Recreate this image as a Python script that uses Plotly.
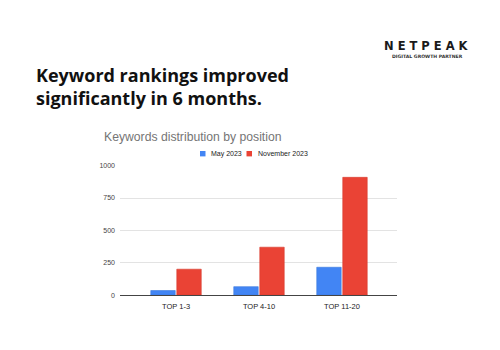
import plotly.graph_objects as go

# Keyword counts per ranking bucket
categories = ["TOP 1-3", "TOP 4-10", "TOP 11-20"]
may_2023 = [35, 65, 215]
nov_2023 = [200, 370, 910]
series_names = ["May 2023", "November 2023"]
y_ticks = [0, 250, 500, 750, 1000]

W, H = 500, 350


def px(x):
    return x / W


def py(y):
    return 1 - y / H


colors = ["#4285F4", "#EA4335"]
edges = ["#3b78dd", "#d63b2e"]

fig = go.Figure()
for name, vals, c, e in zip(series_names, [may_2023, nov_2023], colors, edges):
    fig.add_trace(go.Bar(
        x=categories, y=vals, name=name,
        marker=dict(color=c, line=dict(color=e, width=0.6)),
        showlegend=False,
    ))

shapes = []
annotations = []

# Legend: small colour squares followed by series names
legend_x = [200, 246.5]
for name, c, lx in zip(series_names, colors, legend_x):
    shapes.append(dict(type="rect", xref="paper", yref="paper",
                       x0=px(lx), x1=px(lx + 5.5), y0=py(155.5), y1=py(150),
                       fillcolor=c, line=dict(width=0)))
    annotations.append(dict(xref="paper", yref="paper", x=px(lx + 9), y=py(152.8),
                            xanchor="left", yanchor="middle", showarrow=False,
                            text=name, font=dict(family="Liberation Sans", size=7, color="#222")))

# Chart title
annotations.append(dict(xref="paper", yref="paper", x=px(101.5), y=py(136),
                        xanchor="left", yanchor="middle", showarrow=False,
                        text="Keywords distribution by position",
                        font=dict(family="Liberation Sans", size=12.2, color="#757575")))

# Headline
annotations.append(dict(xref="paper", yref="paper", x=px(34), y=py(58),
                        xanchor="left", yanchor="top", showarrow=False, align="left",
                        text="<b>Keyword rankings improved<br>significantly in 6 months.</b>",
                        font=dict(family="Open Sans", size=18, color="#111")))

# Brand mark
annotations.append(dict(xref="paper", yref="paper", x=px(426), y=py(43),
                        xanchor="center", yanchor="middle", showarrow=False,
                        text="<b>N E T P E A K</b>",
                        font=dict(family="DejaVu Sans", size=11.5, color="#1a1a1a")))
annotations.append(dict(xref="paper", yref="paper", x=px(427), y=py(53.5),
                        xanchor="center", yanchor="middle", showarrow=False,
                        text="<b>DIGITAL GROWTH PARTNER</b>",
                        font=dict(family="DejaVu Sans", size=4.6, color="#333")))

fig.update_layout(
    width=W, height=H,
    margin=dict(l=0, r=0, t=0, b=0),
    paper_bgcolor="white", plot_bgcolor="white",
    barmode="group", bargap=0.373, bargroupgap=0.06,
    shapes=shapes, annotations=annotations,
    xaxis=dict(domain=[px(120), px(397)], range=[-0.675, 2.663],
               showline=True, linecolor="#444", linewidth=1,
               showgrid=False, ticks="", ticklabelstandoff=4,
               tickfont=dict(family="Liberation Sans", size=7.5, color="#222")),
    yaxis=dict(domain=[py(297), py(165)], range=[0, 1000],
               tickvals=y_ticks, ticktext=[str(v) for v in y_ticks],
               showgrid=True, gridcolor="#e3e3e3", gridwidth=1,
               zeroline=False, showline=False, ticks="",
               ticklabelstandoff=4,
               tickfont=dict(family="Liberation Sans", size=7, color="#444")),
)

fig.write_html("out.html")
